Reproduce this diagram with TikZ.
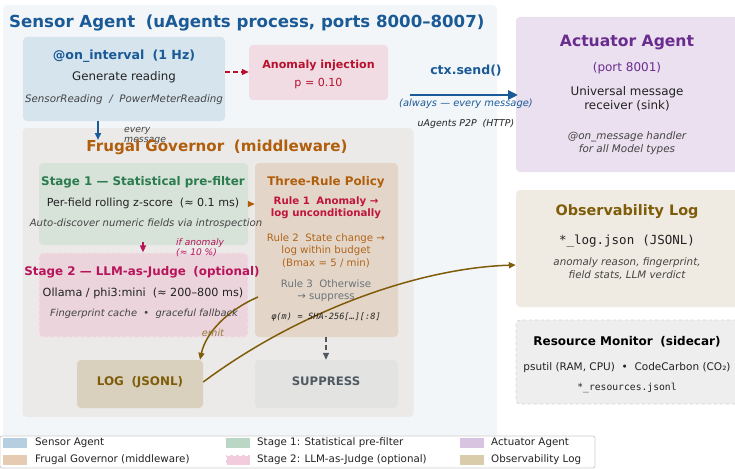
\documentclass[tikz,border=0pt]{standalone}
\usepackage{fontspec}
\setmainfont{DejaVu Sans}
\setmonofont{DejaVu Sans Mono}
\usetikzlibrary{arrows.meta}

\definecolor{sensorBg}{HTML}{F3F6F9}
\definecolor{sensorBlue}{HTML}{1A5A96}
\definecolor{intervalBg}{HTML}{D6E4EE}
\definecolor{anomBg}{HTML}{F0DCE2}
\definecolor{anomRed}{HTML}{B8102E}
\definecolor{actBg}{HTML}{EAE0EF}
\definecolor{actPurple}{HTML}{6A2C8E}
\definecolor{obsBg}{HTML}{EFEBE2}
\definecolor{obsBrown}{HTML}{7F5C0A}
\definecolor{resBg}{HTML}{EEEEEE}
\definecolor{resLine}{HTML}{D6D6D6}
\definecolor{govBg}{HTML}{ECEAE8}
\definecolor{govOrange}{HTML}{B05E0C}
\definecolor{s1Bg}{HTML}{D7E2D9}
\definecolor{s1Green}{HTML}{2A7B4D}
\definecolor{ruleBg}{HTML}{E3D6C8}
\definecolor{ruleRed}{HTML}{C0143C}
\definecolor{ruleTwo}{HTML}{B0651A}
\definecolor{ruleGray}{HTML}{6B7378}
\definecolor{s2Bg}{HTML}{EBD4DC}
\definecolor{s2Line}{HTML}{F5E2EA}
\definecolor{s2Mag}{HTML}{B8145A}
\definecolor{logBg}{HTML}{D9D0BE}
\definecolor{supBg}{HTML}{E3E3E1}
\definecolor{supGray}{HTML}{505A62}
\definecolor{bodyText}{HTML}{222222}
\definecolor{noteText}{HTML}{444444}
\definecolor{legLine}{HTML}{CCCCCC}
\definecolor{swSensor}{HTML}{B5CEE0}
\definecolor{swGov}{HTML}{E6CBB3}
\definecolor{swS1}{HTML}{B9D7C4}
\definecolor{swS2}{HTML}{F2CCDD}
\definecolor{swAct}{HTML}{D8C3E0}
\definecolor{swObs}{HTML}{D9CCAA}

\newcommand\fsz[1]{\fontsize{#1}{#1}\selectfont}
\newcommand\twosp{\hspace{0.64em}}

\begin{document}
\begin{tikzpicture}[x=1pt,y=-1pt,
  box/.style={rounded corners=4pt, inner sep=0pt, draw=none},
  txt/.style={inner sep=0pt, text height=0.72em, text depth=0.2em, align=center},
  tip/.style={-{Triangle[length=7pt,width=6pt]}},
  bigtip/.style={-{Triangle[length=10pt,width=9pt]}},
  swatch/.style={inner sep=0pt, minimum width=24, minimum height=10, draw=none},
  legtxt/.style={inner sep=0pt, anchor=west, text height=0.72em, text depth=0.2em, font=\fsz{10.3}, text=bodyText},
]
\useasboundingbox (0,0) rectangle (735,468);

% panels
\node[box, fill=sensorBg, minimum width=494, minimum height=440] (sensor) at (250,225) {};
\node[box, fill=govBg, minimum width=391, minimum height=289] (gov) at (218,272.5) {};

% boxes
\node[box, fill=intervalBg, minimum width=202, minimum height=84] (interval) at (124,79) {};
\node[box, fill=anomBg, minimum width=139, minimum height=55] (anom) at (318.5,72.5) {};
\node[box, fill=actBg, minimum width=230, minimum height=155] (act) at (631,94.5) {};
\node[box, fill=obsBg, minimum width=230, minimum height=117] (obs) at (631,248.5) {};
\node[box, fill=resBg, draw=resLine, dashed, line width=0.8pt, minimum width=230, minimum height=84] (res) at (631,362) {};
\node[box, fill=s1Bg, minimum width=209, minimum height=82] (s1) at (143.5,204) {};
\node[box, fill=ruleBg, minimum width=143, minimum height=174] (rules) at (326.5,250) {};
\node[box, fill=s2Bg, draw=s2Line, dashed, line width=1.2pt, minimum width=209, minimum height=84] (s2) at (143.5,295) {};
\node[box, fill=logBg, minimum width=126, minimum height=48] (log) at (140,384) {};
\node[box, fill=supBg, minimum width=143, minimum height=48] (sup) at (326.5,384) {};

% connector anchors
\coordinate (sendA) at (410,95);
\coordinate (sendB) at (518,95);

% arrows
\draw[tip, anomRed, line width=1.3pt, dash pattern=on 5pt off 3pt] (interval.east |- 0,72) -- (anom.west |- 0,72);
\draw[bigtip, sensorBlue, line width=2.6pt] (sendA) -- (sendB);
\draw[tip, sensorBlue, line width=2pt] (interval.south -| 98,0) -- (98,140);
\draw[tip, govOrange, line width=1.5pt] (s1.east |- 0,204) -- (rules.west |- 0,204);
\draw[tip, s2Mag, line width=1.5pt] (143,242) -- (s2.north -| 143,0);
\draw[tip, supGray, line width=1.3pt, dash pattern=on 5pt off 3pt] (rules.south -| 326,0) -- (sup.north -| 326,0);
\draw[tip, obsBrown, line width=1.5pt] (258,297) .. controls (228,310) and (206,332) .. (log.north east -| 200,0);
\draw[tip, obsBrown, line width=1.5pt] (log.east |- 0,382) .. controls (300,310) and (420,268) .. (obs.west |- 0,265);

% sensor texts
\node[txt, anchor=west, font=\bfseries\fsz{16.6}, text=sensorBlue] (sensorTitle) at (9,25) {Sensor Agent\twosp(uAgents process, ports 8000–8007)};
\node[txt, font=\bfseries\fsz{12.6}, text=sensorBlue] (intT) at (124,57) {@on\_interval\twosp(1 Hz)};
\node[txt, font=\fsz{11.8}, text=bodyText] (intA) at (124,78) {Generate reading};
\node[txt, font=\itshape\fsz{10.3}, text=noteText] (intB) at (124,100) {SensorReading\twosp/\twosp PowerMeterReading};
\node[txt, font=\bfseries\fsz{11.1}, text=anomRed] (anomT) at (318.5,66) {Anomaly injection};
\node[txt, font=\fsz{11.1}, text=anomRed] (anomA) at (318.5,84) {p = 0.10};
\node[txt, font=\bfseries\fsz{12.5}, text=sensorBlue] (sendT) at (466,72) {ctx.send()};
\node[txt, font=\itshape\fsz{9.9}, text=sensorBlue] (sendL) at (466,104) {(always — every message)};
\node[txt, font=\itshape\fsz{9.4}, text=bodyText] (sendP) at (466,124) {uAgents P2P\twosp(HTTP)};
\node[txt, anchor=west, font=\itshape\fsz{9.3}, text=noteText, align=left] (everyA) at (124,130) {every};
\node[txt, anchor=west, font=\itshape\fsz{9.3}, text=noteText, align=left] (everyB) at (124,140) {message};

% actuator
\node[txt, font=\bfseries\fsz{15.6}, text=actPurple] (actT) at (627,44) {Actuator Agent};
\node[txt, font=\fsz{12}, text=actPurple] (actP) at (627,69) {(port 8001)};
\node[txt, font=\fsz{11.9}, text=bodyText] (actA) at (627,93) {Universal message};
\node[txt, font=\fsz{11.9}, text=bodyText] (actB) at (627,107) {receiver (sink)};
\node[txt, font=\itshape\fsz{10.4}, text=noteText] (actC) at (627,137) {@on\_message handler};
\node[txt, font=\itshape\fsz{10.4}, text=noteText] (actD) at (627,150) {for all Model types};

% observability
\node[txt, font=\bfseries\fsz{14.4}, text=obsBrown] (obsT) at (627,213) {Observability Log};
\node[txt, font=\ttfamily\fsz{12.5}, text=bodyText] (obsA) at (627,242) {*\_log.json\twosp(JSONL)};
\node[txt, font=\itshape\fsz{10.3}, text=noteText] (obsB) at (627,263) {anomaly reason, fingerprint,};
\node[txt, font=\itshape\fsz{10.3}, text=noteText] (obsC) at (627,276) {field stats, LLM verdict};

% resource
\node[txt, font=\bfseries\fsz{12}, text=black] (resT) at (627,343) {Resource Monitor\twosp(sidecar)};
\node[txt, font=\fsz{10.5}, text=bodyText] (resA) at (627,368) {psutil (RAM, CPU)\twosp•\twosp CodeCarbon (CO₂)};
\node[txt, font=\ttfamily\fsz{9.7}, text=bodyText] (resB) at (627,388) {*\_resources.jsonl};

% governor
\node[txt, font=\bfseries\fsz{15.1}, text=govOrange] (govT) at (217,149) {Frugal Governor\twosp(middleware)};
\node[txt, font=\bfseries\fsz{11.9}, text=s1Green] (s1T) at (143,183) {Stage 1 — Statistical pre-filter};
\node[txt, font=\fsz{11.1}, text=bodyText] (s1A) at (143,204) {Per-field rolling z-score\twosp(≈ 0.1 ms)};
\node[txt, font=\itshape\fsz{10.1}, text=noteText] (s1B) at (146,224) {Auto-discover numeric fields via introspection};
\node[txt, anchor=west, font=\itshape\fsz{9.1}, text=s2Mag] (ifA) at (176,243) {if anomaly};
\node[txt, anchor=west, font=\itshape\fsz{9.1}, text=s2Mag] (ifB) at (176,253) {(≈ 10 \%)};
\node[txt, font=\bfseries\fsz{11.9}, text=s2Mag] (s2T) at (142,273) {Stage 2 — LLM-as-Judge\twosp(optional)};
\node[txt, font=\fsz{11.2}, text=bodyText] (s2A) at (143,294) {Ollama / phi3:mini\twosp(≈ 200–800 ms)};
\node[txt, font=\itshape\fsz{9.9}, text=noteText] (s2B) at (144,314) {Fingerprint cache\twosp•\twosp graceful fallback};
\node[txt, font=\itshape\fsz{9.8}, text=obsBrown!80] (emit) at (213,334) {emit};

\node[txt, font=\bfseries\fsz{11.9}, text=govOrange] (rulesT) at (326,183) {Three-Rule Policy};
\node[txt, font=\bfseries\fsz{10.2}, text=ruleRed] (r1a) at (326,202) {Rule 1\twosp Anomaly →};
\node[txt, font=\bfseries\fsz{10.2}, text=ruleRed] (r1b) at (326,214) {log unconditionally};
\node[txt, font=\fsz{10.2}, text=ruleTwo] (r2a) at (326,239) {Rule 2\twosp State change →};
\node[txt, font=\fsz{10.2}, text=ruleTwo] (r2b) at (326,251) {log within budget};
\node[txt, font=\fsz{10.2}, text=ruleTwo] (r2c) at (326,264) {(Bmax = 5 / min)};
\node[txt, font=\fsz{10.2}, text=ruleGray] (r3a) at (326,285) {Rule 3\twosp Otherwise};
\node[txt, font=\fsz{10.2}, text=ruleGray] (r3b) at (326,297) {→ suppress};
\node[txt, font=\ttfamily\itshape\fsz{8.6}, text=bodyText] (phi) at (326,317) {φ(m)\twosp=\twosp SHA-256[…][:8]};

\node[txt, font=\bfseries\fsz{11.9}, text=obsBrown] (logT) at (140,383) {LOG\twosp(JSONL)};
\node[txt, font=\bfseries\fsz{11.7}, text=supGray] (supT) at (326,383) {SUPPRESS};

% legend
\node[box, rounded corners=2pt, fill=white, draw=legLine, line width=0.8pt, minimum width=595, minimum height=32] (legend) at (297.5,452) {};
\node[swatch, fill=swSensor] (lg1) at (15,443) {};
\node[legtxt] (lt1) at (35,443) {Sensor Agent};
\node[swatch, fill=swGov] (lg2) at (15,460) {};
\node[legtxt] (lt2) at (35,460) {Frugal Governor (middleware)};
\node[swatch, fill=swS1] (lg3) at (238,443) {};
\node[legtxt] (lt3) at (257,443) {Stage 1: Statistical pre-filter};
\node[swatch, fill=swS2, draw=white, dashed, line width=0.8pt] (lg4) at (238,460) {};
\node[legtxt] (lt4) at (257,460) {Stage 2: LLM-as-Judge (optional)};
\node[swatch, fill=swAct] (lg5) at (472,443) {};
\node[legtxt] (lt5) at (491,443) {Actuator Agent};
\node[swatch, fill=swObs] (lg6) at (472,460) {};
\node[legtxt] (lt6) at (491,460) {Observability Log};
\end{tikzpicture}
\end{document}
